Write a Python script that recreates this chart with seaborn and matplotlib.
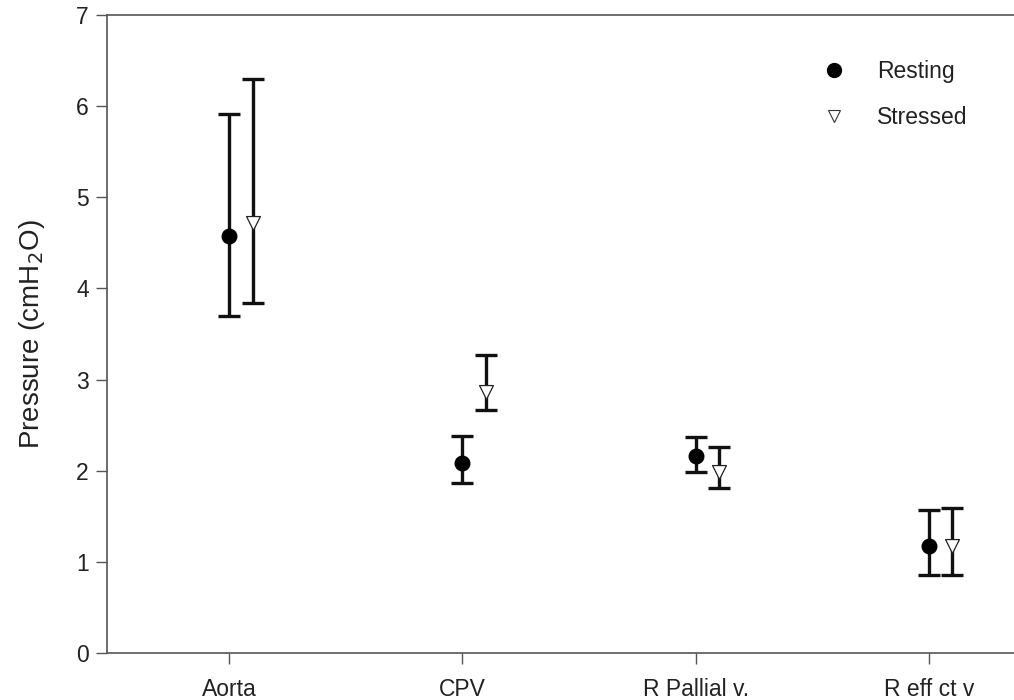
import matplotlib
matplotlib.use("Agg")
import matplotlib.pyplot as plt
from matplotlib.lines import Line2D
import numpy as np
import pandas as pd
import seaborn as sns

# Venous and arterial pressures (cmH2O), mean with upper/lower error limits
sites = ["Aorta", "CPV", "R Pallial v.", "R eff ct v"]
resting_mean = [4.58, 2.09, 2.16, 1.17]
resting_upper = [5.91, 2.38, 2.37, 1.57]
resting_lower = [3.70, 1.87, 1.99, 0.86]
stressed_mean = [4.72, 2.86, 1.99, 1.17]
stressed_upper = [6.30, 3.27, 2.26, 1.59]
stressed_lower = [3.84, 2.67, 1.81, 0.86]
y_ticks = [0, 1, 2, 3, 4, 5, 6, 7]

sns.set_style("ticks")
plt.rcParams["font.family"] = ["Liberation Sans", "DejaVu Sans"]

pos = np.arange(1, len(sites) + 1)
offset = 0.1

df = pd.DataFrame({
    "x": np.concatenate([pos, pos + offset]),
    "y": resting_mean + stressed_mean,
    "lo": resting_lower + stressed_lower,
    "hi": resting_upper + stressed_upper,
    "condition": ["Resting"] * len(sites) + ["Stressed"] * len(sites),
})

fig = plt.figure(figsize=(10.14, 7.0), dpi=100)
ax = fig.add_axes([0.1055, 0.067, 0.8945, 0.9116])

# asymmetric error bars drawn first, markers on top
for cond in ["Resting", "Stressed"]:
    d = df[df.condition == cond]
    yerr = np.vstack([d.y - d.lo, d.hi - d.y])
    ax.errorbar(d.x, d.y, yerr=yerr, fmt="none", ecolor="#111111",
                elinewidth=2.4, capsize=8, capthick=2.4, zorder=2)

sns.scatterplot(data=df[df.condition == "Resting"], x="x", y="y", marker="o",
                color="black", edgecolor="black", s=110, linewidth=1,
                ax=ax, zorder=3, legend=False)
sns.scatterplot(data=df[df.condition == "Stressed"], x="x", y="y", marker="v",
                color="white", edgecolor="#222222", s=100, linewidth=0.9,
                ax=ax, zorder=3, legend=False)

ax.set_xlim(0.476, 4.365)
ax.set_ylim(0, 7)
ax.set_yticks(y_ticks)
ax.set_xticks(pos)
ax.set_xticklabels(sites)
ax.set_xlabel("")
ax.set_ylabel("Pressure (cmH$_2$O)", fontsize=20, labelpad=21, color="#222222")
ax.tick_params(axis="both", labelsize=16.5, length=8, width=1, color="#555555",
               labelcolor="#222222")
ax.tick_params(axis="y", pad=5)
ax.tick_params(axis="x", pad=10)

for side in ["left", "bottom", "top"]:
    ax.spines[side].set_visible(True)
    ax.spines[side].set_linewidth(1.2)
    ax.spines[side].set_color("#555555")
ax.spines["right"].set_visible(False)

handles = [
    Line2D([], [], linestyle="none", marker="o", markersize=10,
           markerfacecolor="black", markeredgecolor="black"),
    Line2D([], [], linestyle="none", marker="v", markersize=9,
           markerfacecolor="white", markeredgecolor="#333333", markeredgewidth=0.8),
]
leg = ax.legend(handles, ["Resting", "Stressed"], frameon=False, fontsize=16.5,
                loc="upper left", bbox_to_anchor=(0.753, 0.962),
                labelspacing=1.0, handletextpad=0.9)
for t in leg.get_texts():
    t.set_color("#222222")

fig.savefig("out.png", dpi=100, facecolor="white")
